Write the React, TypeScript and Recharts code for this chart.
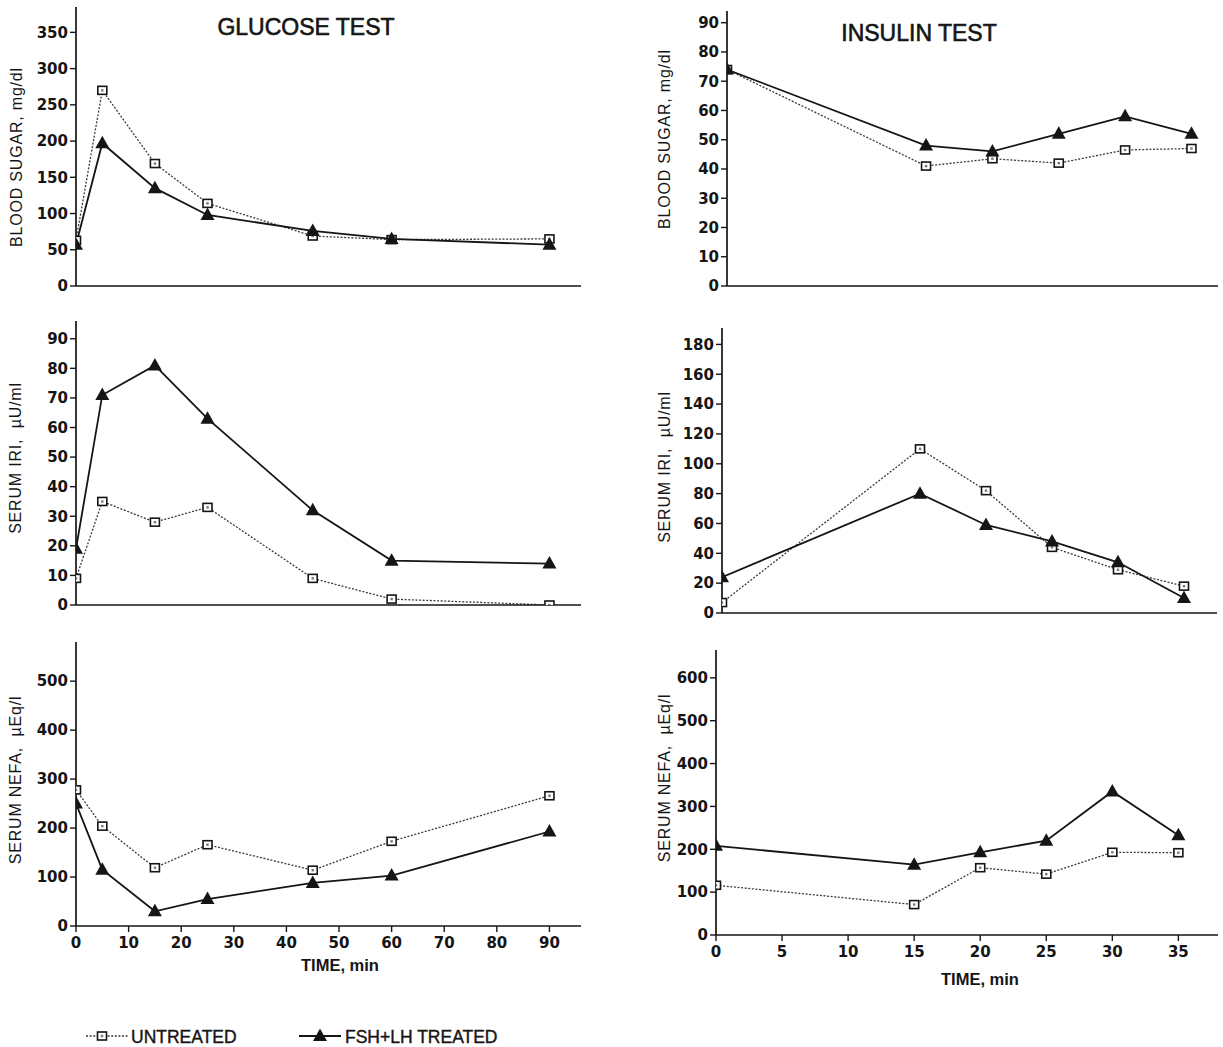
import React from 'react';
import { LineChart, Line, XAxis, YAxis, Legend } from 'recharts';

// ---------- data ----------
const glucoseTime = [0, 5, 15, 25, 45, 60, 90];
const insulinTime = [0, 15, 20, 25, 30, 35];

const glucoseSugarUntreated = [63, 270, 169, 114, 69, 64, 65];
const glucoseSugarTreated = [57, 197, 135, 98, 76, 65, 57];
const glucoseIriUntreated = [9, 35, 28, 33, 9, 2, 0];
const glucoseIriTreated = [19, 71, 81, 63, 32, 15, 14];
const glucoseNefaUntreated = [278, 204, 119, 166, 114, 173, 266];
const glucoseNefaTreated = [250, 115, 30, 55, 88, 103, 193];

const insulinSugarUntreated = [74, 41, 43.5, 42, 46.5, 47];
const insulinSugarTreated = [74, 48, 46, 52, 58, 52];
const insulinIriUntreated = [7, 110, 82, 44, 29, 18];
const insulinIriTreated = [24, 80, 59, 48, 34, 10];
const insulinNefaUntreated = [116, 71, 157, 142, 193, 192];
const insulinNefaTreated = [208, 164, 193, 220, 335, 233];

const glucoseTimeTicks = [0, 10, 20, 30, 40, 50, 60, 70, 80, 90];
const insulinTimeTicks = [0, 5, 10, 15, 20, 25, 30, 35];
const glucoseSugarTicks = [0, 50, 100, 150, 200, 250, 300, 350];
const glucoseIriTicks = [0, 10, 20, 30, 40, 50, 60, 70, 80, 90];
const glucoseNefaTicks = [0, 100, 200, 300, 400, 500];
const insulinSugarTicks = [0, 10, 20, 30, 40, 50, 60, 70, 80, 90];
const insulinIriTicks = [0, 20, 40, 60, 80, 100, 120, 140, 160, 180];
const insulinNefaTicks = [0, 100, 200, 300, 400, 500, 600];

const seriesNames = { u: 'UNTREATED', f: 'FSH+LH TREATED' };
const titles = { glucose: 'GLUCOSE TEST', insulin: 'INSULIN TEST' };
const axisTitles = {
  sugar: 'BLOOD SUGAR, mg/dl',
  iri: 'SERUM IRI,\u00A0 \u00B5U/ml',
  nefa: 'SERUM NEFA,\u00A0 \u00B5Eq/l',
  time: 'TIME, min',
};

const build = (t: number[], u: number[], f: number[]) => t.map((x, i) => ({ t: x, u: u[i], f: f[i] }));

// ---------- styles ----------
const INK = '#151515';
const TICK_FONT = { fontFamily: 'DejaVu Sans', fontWeight: 700, fontSize: 15, fill: INK };

function SquareDot(props: any) {
  const { cx, cy, index } = props;
  if (cx == null || cy == null) return <g key={`sq-${index}`} />;
  return (
    <g key={`sq-${index}`}>
      <rect x={cx - 4.5} y={cy - 4} width={9} height={8} fill="#fff" stroke={INK} strokeWidth={1.6} />
      <rect x={cx - 1.2} y={cy - 1.2} width={2.4} height={2.4} fill="#777" />
    </g>
  );
}

function TriDot(props: any) {
  const { cx, cy, index } = props;
  if (cx == null || cy == null) return <g key={`tr-${index}`} />;
  return (
    <polygon
      key={`tr-${index}`}
      points={`${cx},${cy - 7.5} ${cx - 7},${cy + 5} ${cx + 7},${cy + 5}`}
      fill={INK}
    />
  );
}

function VLabel(props: any) {
  const { text, lx, ly } = props;
  return (
    <text
      x={lx}
      y={ly}
      transform={`rotate(-90, ${lx}, ${ly})`}
      textAnchor="middle"
      fontFamily="Liberation Sans, Arial, sans-serif"
      fontSize={16}
      letterSpacing={0.8}
      fill={INK}
    >
      {text}
    </text>
  );
}

function HLabel(props: any) {
  const { text, lx, ly } = props;
  return (
    <text x={lx} y={ly} textAnchor="middle" fontFamily="Liberation Sans, Arial, sans-serif" fontWeight={700} fontSize={16.5} fill={INK}>
      {text}
    </text>
  );
}

function LegendContent(props: any) {
  const { payload } = props;
  const pos: Record<string, { x1: number; x2: number; m: number; tx: number }> = {
    u: { x1: 86, x2: 128, m: 102, tx: 131 },
    f: { x1: 299, x2: 341, m: 320, tx: 345 },
  };
  const cy = 14;
  return (
    <svg width={600} height={30}>
      {(payload || []).map((p: any) => {
        const k = p.dataKey as string;
        const s = pos[k];
        if (!s) return null;
        return (
          <g key={k}>
            <line
              x1={s.x1}
              x2={s.x2}
              y1={cy}
              y2={cy}
              stroke={k === 'u' ? '#3a3a3a' : INK}
              strokeWidth={k === 'u' ? 1.3 : 1.8}
              strokeDasharray={k === 'u' ? '2 1.6' : undefined}
            />
            {k === 'u' ? <SquareDot cx={s.m} cy={cy} index={0} /> : <TriDot cx={s.m} cy={cy} index={0} />}
            <text
              x={s.tx}
              y={cy + 6.5}
              fontFamily="Liberation Sans, Arial, sans-serif"
              fontSize={17.5}
              fill={INK}
              stroke={INK}
              strokeWidth={0.4}
            >
              {p.value}
            </text>
          </g>
        );
      })}
    </svg>
  );
}

type PanelCfg = {
  left: number;
  top: number;
  width: number;
  height: number;
  mt: number;
  mb: number;
  yw: number;
  xh: number;
  xDomain: [number, number];
  yDomain: [number, number];
  xTicks: number[];
  yTicks: number[];
  showX: boolean;
  yTitle: string;
  yTitlePos: [number, number];
  xTitlePos?: [number, number];
  legend?: boolean;
  data: any[];
};

function Panel({ cfg }: { cfg: PanelCfg }) {
  return (
    <div style={{ position: 'absolute', left: cfg.left, top: cfg.top }}>
      <LineChart
        width={cfg.width}
        height={cfg.height}
        data={cfg.data}
        margin={{ top: cfg.mt, right: 0, bottom: cfg.mb, left: 0 }}
      >
        <XAxis
          type="number"
          dataKey="t"
          domain={cfg.xDomain}
          ticks={cfg.xTicks}
          interval={0}
          height={cfg.xh}
          tickSize={6}
          tickMargin={5}
          allowDataOverflow
          tick={cfg.showX ? TICK_FONT : false}
          axisLine={{ stroke: INK, strokeWidth: 1.7 }}
          tickLine={{ stroke: INK, strokeWidth: 1.4 }}
          label={cfg.xTitlePos ? <HLabel text={axisTitles.time} lx={cfg.xTitlePos[0]} ly={cfg.xTitlePos[1]} /> : undefined}
        />
        <YAxis
          type="number"
          domain={cfg.yDomain}
          ticks={cfg.yTicks}
          interval={0}
          width={cfg.yw}
          tickSize={6}
          tickMargin={2}
          allowDataOverflow
          tick={TICK_FONT}
          axisLine={{ stroke: INK, strokeWidth: 1.7 }}
          tickLine={{ stroke: INK, strokeWidth: 1.4 }}
          label={<VLabel text={cfg.yTitle} lx={cfg.yTitlePos[0]} ly={cfg.yTitlePos[1]} />}
        />
        <Line
          type="linear"
          dataKey="u"
          name={seriesNames.u}
          stroke="#3a3a3a"
          strokeWidth={1.3}
          strokeDasharray="2 1.6"
          dot={SquareDot}
          activeDot={false}
          isAnimationActive={false}
        />
        <Line
          type="linear"
          dataKey="f"
          name={seriesNames.f}
          stroke={INK}
          strokeWidth={1.8}
          dot={TriDot}
          activeDot={false}
          isAnimationActive={false}
        />
        {cfg.legend ? (
          <Legend
            layout="horizontal"
            verticalAlign="middle"
            align="center"
            content={(p: any) => <LegendContent {...p} />}
            wrapperStyle={{ left: 0, top: 392, width: 600, height: 30 }}
          />
        ) : null}
      </LineChart>
    </div>
  );
}

const panels: PanelCfg[] = [
  {
    left: 0, top: 0, width: 581, height: 298, mt: 7, mb: 0, yw: 76, xh: 12,
    xDomain: [0, 96], yDomain: [0, 385], xTicks: glucoseTimeTicks, yTicks: glucoseSugarTicks,
    showX: false, yTitle: axisTitles.sugar, yTitlePos: [22, 157],
    data: build(glucoseTime, glucoseSugarUntreated, glucoseSugarTreated),
  },
  {
    left: 0, top: 300, width: 581, height: 317, mt: 21, mb: 0, yw: 76, xh: 12,
    xDomain: [0, 96], yDomain: [0, 96], xTicks: glucoseTimeTicks, yTicks: glucoseIriTicks,
    showX: false, yTitle: axisTitles.iri, yTitlePos: [21, 158],
    data: build(glucoseTime, glucoseIriUntreated, glucoseIriTreated),
  },
  {
    left: 0, top: 630, width: 581, height: 417, mt: 12, mb: 71, yw: 76, xh: 50,
    xDomain: [0, 96], yDomain: [0, 580], xTicks: glucoseTimeTicks, yTicks: glucoseNefaTicks,
    showX: true, yTitle: axisTitles.nefa, yTitlePos: [21, 150], xTitlePos: [340, 341], legend: true,
    data: build(glucoseTime, glucoseNefaUntreated, glucoseNefaTreated),
  },
  {
    left: 620, top: 0, width: 598, height: 298, mt: 11, mb: 0, yw: 107, xh: 12,
    xDomain: [0, 37], yDomain: [0, 94], xTicks: insulinTimeTicks, yTicks: insulinSugarTicks,
    showX: false, yTitle: axisTitles.sugar, yTitlePos: [50, 139],
    data: build(insulinTime, insulinSugarUntreated, insulinSugarTreated),
  },
  {
    left: 620, top: 310, width: 597, height: 315, mt: 18, mb: 0, yw: 102, xh: 12,
    xDomain: [0, 37.5], yDomain: [0, 191], xTicks: insulinTimeTicks, yTicks: insulinIriTicks,
    showX: false, yTitle: axisTitles.iri, yTitlePos: [50, 157],
    data: build(insulinTime, insulinIriUntreated, insulinIriTreated),
  },
  {
    left: 620, top: 630, width: 598, height: 375, mt: 20, mb: 20, yw: 96, xh: 50,
    xDomain: [0, 38], yDomain: [0, 665], xTicks: insulinTimeTicks, yTicks: insulinNefaTicks,
    showX: true, yTitle: axisTitles.nefa, yTitlePos: [50, 148], xTitlePos: [360, 355],
    data: build(insulinTime, insulinNefaUntreated, insulinNefaTreated),
  },
];

export default function App() {
  return (
    <div style={{ position: 'absolute', left: 0, top: 0, width: 1223, height: 1047, background: '#fff', overflow: 'hidden' }}>
      {panels.map((p, i) => (
        <Panel key={i} cfg={p} />
      ))}
      <svg width={1223} height={60} style={{ position: 'absolute', left: 0, top: 0, pointerEvents: 'none' }}>
        <text x={306} y={35} textAnchor="middle" fontFamily="Liberation Sans, Arial, sans-serif" fontSize={23} fill={INK} stroke={INK} strokeWidth={0.6}>
          {titles.glucose}
        </text>
        <text x={919} y={41} textAnchor="middle" fontFamily="Liberation Sans, Arial, sans-serif" fontSize={23} fill={INK} stroke={INK} strokeWidth={0.6}>
          {titles.insulin}
        </text>
      </svg>
    </div>
  );
}
